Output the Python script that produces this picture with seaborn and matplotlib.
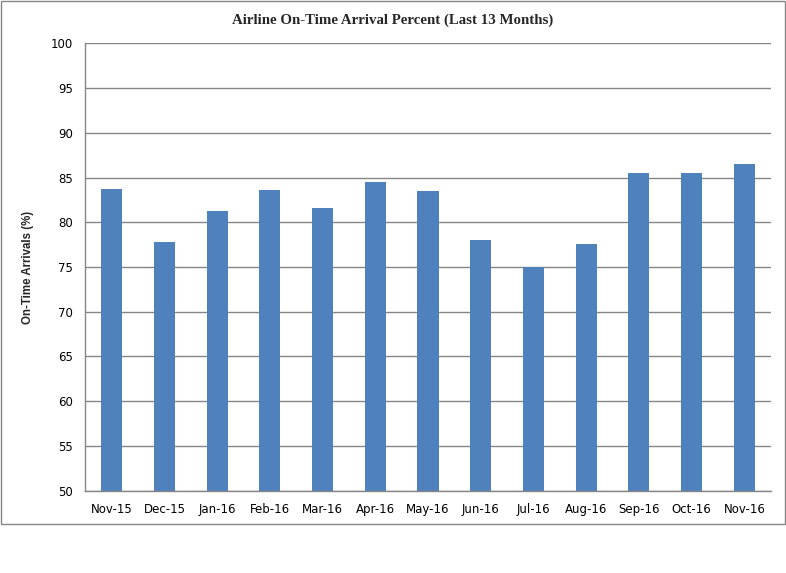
import numpy as np
import pandas as pd
import seaborn as sns
import matplotlib.pyplot as plt
from matplotlib.patches import Rectangle
from matplotlib.ticker import FixedLocator

months = ['Nov-15', 'Dec-15', 'Jan-16', 'Feb-16', 'Mar-16', 'Apr-16', 'May-16',
          'Jun-16', 'Jul-16', 'Aug-16', 'Sep-16', 'Oct-16', 'Nov-16']
on_time = [83.7, 77.8, 81.25, 83.6, 81.6, 84.5, 83.5,
           78.0, 75.0, 77.6, 85.5, 85.5, 86.5]

df = pd.DataFrame({'month': months, 'pct': on_time})

sns.set_style('white')
plt.rcParams['font.family'] = ['DejaVu Sans']

fig = plt.figure(figsize=(7.86, 5.73), dpi=100)
ax = fig.add_axes([85.3 / 786, 1 - 490.7 / 573, (770.7 - 85.3) / 786, (490.7 - 43.3) / 573])

sns.barplot(data=df, x='month', y='pct', color='#4F81BD', saturation=1,
            width=0.4, linewidth=0, ax=ax)

ax.set_ylim(50, 100)
ax.set_xlim(-0.5, len(months) - 0.5)
ax.set_yticks(np.arange(50, 101, 5))
ax.yaxis.grid(True, color='#868686', linewidth=1)
ax.set_axisbelow(True)

for s in ['top', 'right']:
    ax.spines[s].set_visible(False)
for s in ['left', 'bottom']:
    ax.spines[s].set_color('#868686')
    ax.spines[s].set_linewidth(1)

ax.tick_params(axis='y', length=5, width=1, color='#868686', labelsize=8.5,
               labelcolor='black', pad=4)
ax.tick_params(axis='x', which='major', length=0, labelsize=8.5,
               labelcolor='black', pad=9)
ax.xaxis.set_minor_locator(FixedLocator(np.arange(-0.5, len(months), 1)))
ax.tick_params(axis='x', which='minor', length=5, width=1, color='#868686')

ax.set_xlabel('')
ax.set_ylabel('On-Time Arrivals (%)', fontsize=8.3, fontweight='bold',
              family='Liberation Sans', labelpad=12)

fig.text(0.5, 1 - 20 / 573, 'Airline On-Time Arrival Percent (Last 13 Months)',
         ha='center', va='center', fontsize=10.7, fontweight='bold',
         family='Liberation Serif')

fig.patches.append(Rectangle((0.5 / 786, 1 - 523.5 / 573), 784.5 / 786, 523 / 573,
                             transform=fig.transFigure, fill=False,
                             edgecolor='#868686', linewidth=1))

fig.savefig('out.png', dpi=100)
